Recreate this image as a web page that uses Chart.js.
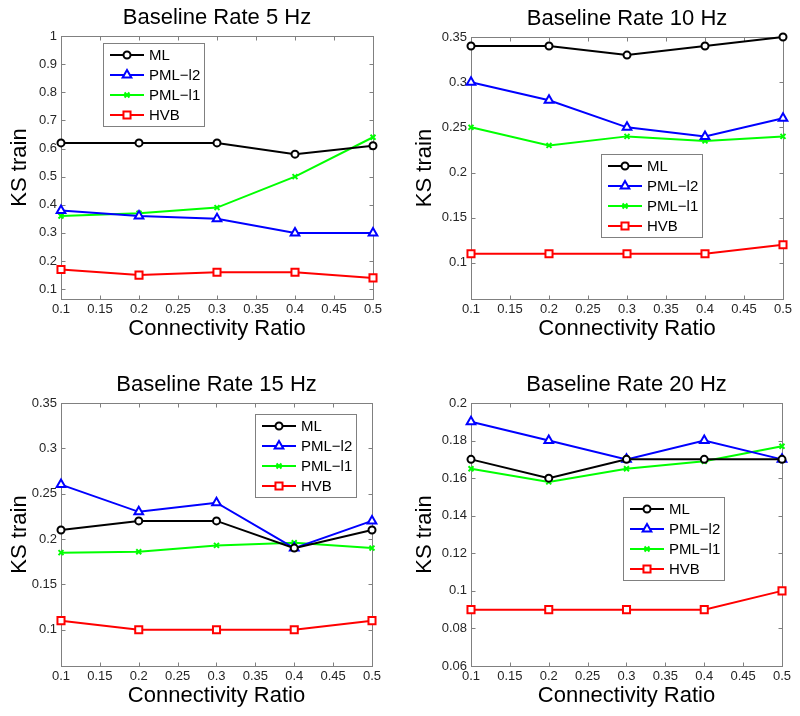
<!DOCTYPE html>
<html>
<head>
<meta charset="utf-8">
<script src="https://cdn.jsdelivr.net/npm/chart.js@4/dist/chart.umd.min.js"></script>
<style>
html, body { margin: 0; padding: 0; background: #fff; overflow: hidden; }
#wrap { position: relative; width: 800px; height: 716px; }
canvas { position: absolute; }
</style>
</head>
<body>
<div id="wrap">
  <canvas id="p5"></canvas>
  <canvas id="p10"></canvas>
  <canvas id="p15"></canvas>
  <canvas id="p20"></canvas>
</div>
<script>
// ---- data ----
const seriesNames = ['ML', 'PML\u2212l2', 'PML\u2212l1', 'HVB'];
const ratios = [0.1, 0.2, 0.3, 0.4, 0.5];
const xTicks = [0.1, 0.15, 0.2, 0.25, 0.3, 0.35, 0.4, 0.45, 0.5];

const titles = ['Baseline Rate 5 Hz', 'Baseline Rate 10 Hz', 'Baseline Rate 15 Hz', 'Baseline Rate 20 Hz'];

const rate5ML   = [0.62, 0.62, 0.62, 0.58, 0.61];
const rate5L2   = [0.38, 0.36, 0.35, 0.30, 0.30];
const rate5L1   = [0.36, 0.37, 0.39, 0.50, 0.64];
const rate5HVB  = [0.17, 0.15, 0.16, 0.16, 0.14];
const yTicks5   = [0.1, 0.2, 0.3, 0.4, 0.5, 0.6, 0.7, 0.8, 0.9, 1];

const rate10ML  = [0.34, 0.34, 0.33, 0.34, 0.35];
const rate10L2  = [0.30, 0.28, 0.25, 0.24, 0.26];
const rate10L1  = [0.25, 0.23, 0.24, 0.235, 0.24];
const rate10HVB = [0.11, 0.11, 0.11, 0.11, 0.12];
const yTicks10  = [0.1, 0.15, 0.2, 0.25, 0.3, 0.35];

const rate15ML  = [0.21, 0.22, 0.22, 0.19, 0.21];
const rate15L2  = [0.26, 0.23, 0.24, 0.19, 0.22];
const rate15L1  = [0.185, 0.186, 0.193, 0.196, 0.19];
const rate15HVB = [0.11, 0.10, 0.10, 0.10, 0.11];
const yTicks15  = [0.1, 0.15, 0.2, 0.25, 0.3, 0.35];

const rate20ML  = [0.17, 0.16, 0.17, 0.17, 0.17];
const rate20L2  = [0.19, 0.18, 0.17, 0.18, 0.17];
const rate20L1  = [0.165, 0.158, 0.165, 0.169, 0.177];
const rate20HVB = [0.09, 0.09, 0.09, 0.09, 0.10];
const yTicks20  = [0.06, 0.08, 0.1, 0.12, 0.14, 0.16, 0.18, 0.2];

const yRanges = [[0.065, 1], [0.06, 0.35], [0.06, 0.35], [0.06, 0.2]];

// ---- styling / layout ----
const FONT = '"Liberation Sans", Arial, Helvetica, sans-serif';
Chart.defaults.font.family = FONT;

const seriesStyle = [
  { color: '#000000', pointStyle: 'circle',   radius: 3.5 },
  { color: '#0000ff', pointStyle: 'triangle', radius: 5 },
  { color: '#00ff00', pointStyle: 'crossRot', radius: 3.5 },
  { color: '#ff0000', pointStyle: 'rect',     radius: 5 }
];

// chart area (L,R,T,B) in page pixels, y-axis width, y-title padding, legend offset in chart area
const frames = [
  { id: 'p5',  L: 61,  R: 373, T: 36,  B: 299, wy: 61, yPad: 7,  lx: 42,  ly: 7 },
  { id: 'p10', L: 471, R: 783, T: 37,  B: 299, wy: 71, yPad: 12, lx: 130, ly: 117 },
  { id: 'p15', L: 61,  R: 372, T: 403, B: 666, wy: 61, yPad: 7,  lx: 194, ly: 11 },
  { id: 'p20', L: 471, R: 782, T: 403, B: 666, wy: 71, yPad: 12, lx: 152, ly: 94 }
];
const TITLE_H = 36, XAXIS_H = 43;

const fmt = v => String(Math.round(v * 1000) / 1000);

// box with inward ticks (MATLAB style)
const axisBox = {
  id: 'axisBox',
  beforeDatasetsDraw(chart) {
    const { ctx, chartArea: a, scales: { x, y } } = chart;
    const l = Math.round(a.left) + 0.5, r = Math.round(a.right) + 0.5;
    const t = Math.round(a.top) + 0.5, b = Math.round(a.bottom) + 0.5;
    ctx.save();
    ctx.strokeStyle = '#808080';
    ctx.lineWidth = 1;
    ctx.strokeRect(l, t, r - l, b - t);
    ctx.beginPath();
    x.ticks.forEach(tk => {
      const px = Math.round(x.getPixelForValue(tk.value)) + 0.5;
      ctx.moveTo(px, b); ctx.lineTo(px, b - 4);
      ctx.moveTo(px, t); ctx.lineTo(px, t + 4);
    });
    y.ticks.forEach(tk => {
      const py = Math.round(y.getPixelForValue(tk.value)) + 0.5;
      ctx.moveTo(l, py); ctx.lineTo(l + 4, py);
      ctx.moveTo(r, py); ctx.lineTo(r - 4, py);
    });
    ctx.stroke();
    ctx.restore();
  }
};

// legend box placed inside the axes
const boxLegend = {
  id: 'boxLegend',
  afterDraw(chart, args, opts) {
    const { ctx, chartArea } = chart;
    const x0 = Math.round(chartArea.left + opts.x), y0 = Math.round(chartArea.top + opts.y);
    const items = chart.data.datasets;
    ctx.save();
    ctx.font = '15px ' + FONT;
    const textW = Math.max(...items.map(d => ctx.measureText(d.label).width));
    const w = Math.round(7 + 34 + 5 + textW + 4);
    const h = 12 + (items.length - 1) * 20 + 11;
    ctx.fillStyle = '#ffffff';
    ctx.fillRect(x0, y0, w, h);
    ctx.strokeStyle = '#808080';
    ctx.lineWidth = 1;
    ctx.strokeRect(x0 + 0.5, y0 + 0.5, w, h);
    items.forEach((d, i) => {
      const cy = y0 + 12 + i * 20;
      ctx.strokeStyle = d.borderColor;
      ctx.lineWidth = 2;
      ctx.beginPath();
      ctx.moveTo(x0 + 7, cy); ctx.lineTo(x0 + 41, cy);
      ctx.stroke();
      ctx.fillStyle = d.pointBackgroundColor;
      Chart.helpers.drawPoint(ctx, {
        pointStyle: d.pointStyle, radius: d.pointRadius, rotation: 0, borderWidth: d.pointBorderWidth
      }, x0 + 24, cy);
      ctx.fillStyle = '#000000';
      ctx.textAlign = 'left';
      ctx.textBaseline = 'middle';
      ctx.fillText(d.label, x0 + 46, cy + 1);
    });
    ctx.restore();
  }
};

const panelSeries = [
  [rate5ML, rate5L2, rate5L1, rate5HVB],
  [rate10ML, rate10L2, rate10L1, rate10HVB],
  [rate15ML, rate15L2, rate15L1, rate15HVB],
  [rate20ML, rate20L2, rate20L1, rate20HVB]
];
const panelYTicks = [yTicks5, yTicks10, yTicks15, yTicks20];

frames.forEach((f, p) => {
  const canvas = document.getElementById(f.id);
  const width = (f.R - f.L) + 2 * f.wy;
  const height = TITLE_H + (f.B - f.T) + XAXIS_H;
  canvas.width = width;
  canvas.height = height;
  canvas.style.left = (f.L - f.wy) + 'px';
  canvas.style.top = (f.T - TITLE_H) + 'px';

  const datasets = panelSeries[p].map((vals, s) => ({
    label: seriesNames[s],
    data: ratios.map((r, i) => ({ x: r, y: vals[i] })),
    borderColor: seriesStyle[s].color,
    backgroundColor: seriesStyle[s].color,
    borderWidth: 2,
    pointStyle: seriesStyle[s].pointStyle,
    pointRadius: seriesStyle[s].radius,
    pointBorderWidth: 2,
    pointBorderColor: seriesStyle[s].color,
    pointBackgroundColor: '#ffffff',
    tension: 0,
    clip: false
  }));

  new Chart(canvas.getContext('2d'), {
    type: 'line',
    data: { datasets },
    options: {
      responsive: false,
      animation: false,
      layout: { padding: 0 },
      plugins: {
        legend: { display: false },
        tooltip: { enabled: false },
        title: {
          display: true,
          text: titles[p],
          color: '#000000',
          font: { size: 22, weight: 'normal' },
          padding: { top: 5, bottom: 4.6 }
        },
        boxLegend: { x: f.lx, y: f.ly }
      },
      scales: {
        x: {
          type: 'linear',
          min: 0.1, max: 0.5,
          afterBuildTicks: sc => { sc.ticks = xTicks.map(v => ({ value: v })); },
          afterFit: sc => { sc.height = XAXIS_H; },
          grid: { display: false, drawTicks: false },
          border: { display: false },
          ticks: { autoSkip: false, maxRotation: 0, padding: 3, color: '#262626', font: { size: 13 }, callback: fmt },
          title: { display: true, text: 'Connectivity Ratio', color: '#000000', font: { size: 22 }, padding: { top: 0, bottom: 0 } }
        },
        y: {
          type: 'linear',
          min: yRanges[p][0], max: yRanges[p][1],
          afterBuildTicks: sc => { sc.ticks = panelYTicks[p].map(v => ({ value: v })); },
          afterFit: sc => { sc.width = f.wy; },
          grid: { display: false, drawTicks: false },
          border: { display: false },
          ticks: { autoSkip: false, padding: 4, color: '#262626', font: { size: 13 }, callback: fmt },
          title: { display: true, text: 'KS train', color: '#000000', font: { size: 22 }, padding: { top: f.yPad, bottom: 0 } }
        },
        // empty right-hand spacer so the title centres over the plot box
        yRight: {
          type: 'linear',
          position: 'right',
          min: yRanges[p][0], max: yRanges[p][1],
          afterFit: sc => { sc.width = f.wy; },
          grid: { display: false, drawTicks: false },
          border: { display: false },
          ticks: { display: false }
        }
      }
    },
    plugins: [axisBox, boxLegend]
  });
});
</script>
</body>
</html>
